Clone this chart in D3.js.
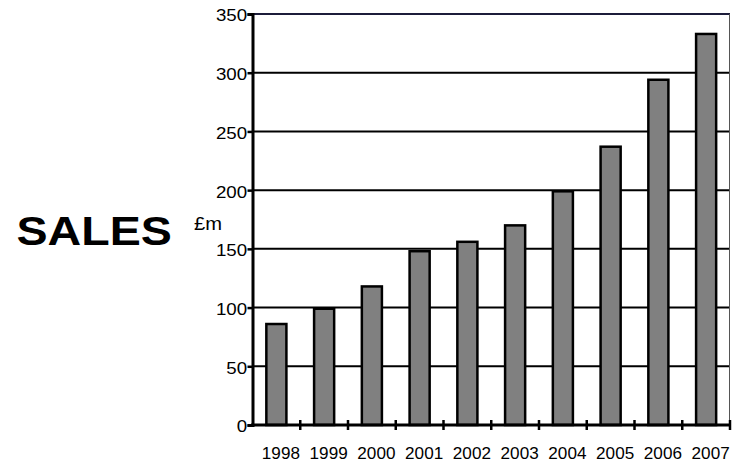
<!DOCTYPE html>
<html>
<head>
<meta charset="utf-8">
<script src="https://cdn.jsdelivr.net/npm/d3@7"></script>
<style>
  html, body { margin: 0; padding: 0; background: #fff; }
  svg { display: block; font-family: "Liberation Sans", Arial, Helvetica, sans-serif; }
</style>
</head>
<body>
<svg id="chart" width="733" height="464"></svg>
<script>
// Annual sales, £ millions
const years = ["1998", "1999", "2000", "2001", "2002", "2003", "2004", "2005", "2006", "2007"];
const sales = [86, 99, 118, 148, 156, 170, 199, 237, 294, 333];
const yTicks = [0, 50, 100, 150, 200, 250, 300, 350];

const svg = d3.select("#chart");
const plot = { left: 252.5, right: 730, top: 14, bottom: 425 };
const FONT = "Liberation Sans, Arial, sans-serif";

const x = d3.scaleBand()
  .domain(years)
  .range([plot.left, plot.right])
  .paddingInner(0.58)
  .paddingOuter(0.29);

const y = d3.scaleLinear()
  .domain([0, 350])
  .range([plot.bottom, plot.top]);

// horizontal gridlines
svg.append("g")
  .selectAll("line")
  .data(yTicks.filter(t => t > 0))
  .join("line")
  .attr("x1", plot.left)
  .attr("x2", plot.right)
  .attr("y1", d => y(d))
  .attr("y2", d => y(d))
  .attr("stroke", d => d === 350 ? "#1c1c3a" : "#000")
  .attr("stroke-width", 2);

// thin right frame
svg.append("line")
  .attr("x1", plot.right - 0.5).attr("x2", plot.right - 0.5)
  .attr("y1", y(350)).attr("y2", y(0))
  .attr("stroke", "#555")
  .attr("stroke-width", 1);

// bars
svg.append("g")
  .selectAll("rect")
  .data(years.map((yr, i) => ({ yr, v: sales[i] })))
  .join("rect")
  .attr("x", d => x(d.yr))
  .attr("y", d => y(d.v))
  .attr("width", x.bandwidth())
  .attr("height", d => y(0) - y(d.v))
  .attr("fill", "#808080")
  .attr("stroke", "#000")
  .attr("stroke-width", 2.5);

// y axis
const yAxis = svg.append("g")
  .attr("transform", `translate(${plot.left},0)`)
  .call(d3.axisLeft(y).tickValues(yTicks).tickSize(5).tickFormat(d3.format("d")));
yAxis.select(".domain").attr("stroke", "#000").attr("stroke-width", 3);
yAxis.selectAll(".tick line").attr("stroke", "#000").attr("stroke-width", 2.5);
yAxis.selectAll(".tick text")
  .attr("x", -4.6)
  .attr("dy", "0.43em")
  .attr("transform", "scale(1.17,1)")
  .attr("font-size", 16)
  .attr("font-family", FONT)
  .attr("fill", "#000");

// x axis: labels centred under bars, ticks on category boundaries
const xAxis = svg.append("g")
  .attr("transform", `translate(0,${plot.bottom})`)
  .call(d3.axisBottom(x).tickSize(0).tickPadding(22.5));
xAxis.select(".domain").remove();
xAxis.selectAll(".tick text")
  .attr("x", 4.2)
  .attr("transform", "scale(1.07,1)")
  .attr("font-size", 16)
  .attr("font-family", FONT)
  .attr("fill", "#000");

svg.append("line")
  .attr("x1", plot.left - 1.5).attr("x2", plot.right)
  .attr("y1", plot.bottom).attr("y2", plot.bottom)
  .attr("stroke", "#000").attr("stroke-width", 3);

const step = x.step();
svg.append("g")
  .selectAll("line")
  .data(years)
  .join("line")
  .attr("x1", d => x(d) + x.bandwidth() / 2 + step / 2)
  .attr("x2", d => x(d) + x.bandwidth() / 2 + step / 2)
  .attr("y1", plot.bottom - 5)
  .attr("y2", plot.bottom + 5)
  .attr("stroke", "#000")
  .attr("stroke-width", 2.5);

// titles
svg.append("text")
  .attr("transform", "translate(16.5,245) scale(1.165,1)")
  .attr("font-size", 40)
  .attr("font-weight", "bold")
  .attr("font-family", FONT)
  .attr("fill", "#000")
  .text("SALES");

svg.append("text")
  .attr("transform", "translate(194,230) scale(1.12,1)")
  .attr("font-size", 18)
  .attr("font-family", FONT)
  .attr("fill", "#000")
  .text("£m");
</script>
</body>
</html>
